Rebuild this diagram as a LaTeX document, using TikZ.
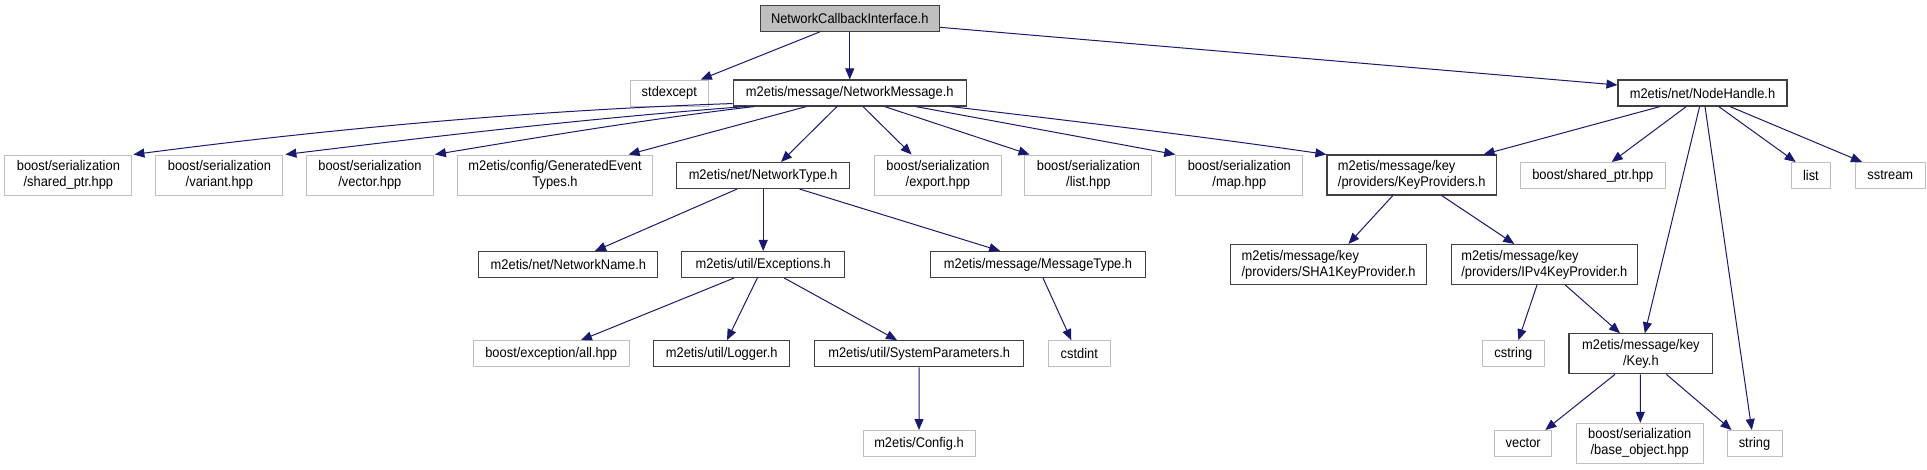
\documentclass[tikz,border=0pt]{standalone}
\usepackage{fontspec}
\setmainfont{Liberation Sans}[FakeStretch=0.92]
\usetikzlibrary{arrows.meta}
\definecolor{edgec}{HTML}{191970}
\definecolor{grayb}{HTML}{BFBFBF}
\definecolor{rootf}{HTML}{BFBFBF}
\definecolor{darkb}{HTML}{404040}
\begin{document}
\begin{tikzpicture}[x=1pt,y=-1pt,
  box/.style={draw=darkb, line width=1.1pt, inner sep=0pt, minimum height=26pt,
    font=\fontsize{14}{16}\selectfont, align=center},
  gbox/.style={box, draw=grayb, line width=1pt},
  two/.style={minimum height=40pt},
  edge/.style={draw=edgec, line width=1pt, -{Triangle[length=11pt,width=9pt]}}]
\useasboundingbox (0,0) rectangle (1927,469);
% row 1
\node[box, fill=rootf, minimum width=179pt] (root) at (849.75,18.3) {NetworkCallbackInterface.h};
% row 2
\node[gbox, minimum width=78pt] (stdexcept) at (669.3,93) {stdexcept};
\node[box, minimum width=233pt] (nm) at (849.75,93) {m2etis/message/NetworkMessage.h};
\node[box, minimum width=169pt] (nh) at (1702.5,93) {m2etis/net/NodeHandle.h};
% row 3
\node[gbox, two, minimum width=127pt] (sp) at (68.4,175) {boost/serialization\\/shared\_ptr.hpp};
\node[gbox, two, minimum width=127pt] (var) at (219.4,175) {boost/serialization\\/variant.hpp};
\node[gbox, two, minimum width=127pt] (vec) at (369.9,175) {boost/serialization\\/vector.hpp};
\node[gbox, two, minimum width=195pt] (get) at (555,175) {m2etis/config/GeneratedEvent\\Types.h};
\node[box, minimum width=173pt] (nt) at (763.2,175.5) {m2etis/net/NetworkType.h};
\node[gbox, two, minimum width=127pt] (exp) at (937.9,175) {boost/serialization\\/export.hpp};
\node[gbox, two, minimum width=127pt] (lst) at (1088.4,175) {boost/serialization\\/list.hpp};
\node[gbox, two, minimum width=127pt] (map) at (1239.3,175) {boost/serialization\\/map.hpp};
\node[box, two, minimum width=169.5pt, align=left] (kp) at (1411.7,175) {m2etis/message/key\\/providers/KeyProviders.h};
\node[gbox, minimum width=145.6pt] (bsp) at (1592.8,175.5) {boost/shared\_ptr.hpp};
\node[gbox, minimum width=39.4pt] (list) at (1810.9,175.5) {list};
\node[gbox, minimum width=70.6pt] (sstream) at (1890.3,175.5) {sstream};
% row 4
\node[box, minimum width=179pt] (nn) at (568.4,264.5) {m2etis/net/NetworkName.h};
\node[box, minimum width=163.3pt] (exc) at (763.2,264.5) {m2etis/util/Exceptions.h};
\node[box, minimum width=214.8pt] (mt) at (1038,264.5) {m2etis/message/MessageType.h};
\node[box, two, minimum width=195.5pt, align=left] (sha1) at (1328.6,264.5) {m2etis/message/key\\/providers/SHA1KeyProvider.h};
\node[box, two, minimum width=186.2pt, align=left] (ipv4) at (1544.3,264.5) {m2etis/message/key\\/providers/IPv4KeyProvider.h};
% row 5
\node[gbox, minimum width=156.4pt] (bea) at (551.2,353.7) {boost/exception/all.hpp};
\node[box, minimum width=136pt] (log) at (721.7,353.7) {m2etis/util/Logger.h};
\node[box, minimum width=209.4pt] (sysp) at (919.2,353.7) {m2etis/util/SystemParameters.h};
\node[gbox, minimum width=61.8pt] (cstdint) at (1079.3,353.7) {cstdint};
\node[gbox, minimum width=61.4pt] (cstring) at (1513.4,353.7) {cstring};
\node[box, two, minimum width=143.8pt] (key) at (1640.9,353.8) {m2etis/message/key\\/Key.h};
% row 6
\node[gbox, minimum width=112pt] (cfg) at (919,443.5) {m2etis/Config.h};
\node[gbox, minimum width=56.8pt] (vector) at (1523.2,443.5) {vector};
\node[gbox, two, minimum width=127.3pt] (bo) at (1639.7,443.3) {boost/serialization\\/base\_object.hpp};
\node[gbox, minimum width=55pt] (string) at (1754.5,443.5) {string};
% edges from root
\draw[edge] ([xshift=60.2pt]root.south west) -- ([xshift=-8pt]stdexcept.north east);
\draw[edge] (root.south) -- (nm.north);
\draw[edge] ([yshift=-9pt]root.east) -- ([yshift=8pt]nh.west);
% edges from NetworkMessage
\draw[edge] ([yshift=3pt]nm.south west) .. controls (540,110) and (336,128) .. ([xshift=1pt]sp.north east);
\draw[edge] ([xshift=13.4pt]nm.south west) .. controls (591,118) and (437,136) .. ([xshift=2pt]var.north east);
\draw[edge] ([xshift=21.7pt]nm.south west) .. controls (648,119) and (540,137) .. ([xshift=1pt]vec.north east);
\draw[edge] ([xshift=73.7pt]nm.south west) -- ([xshift=-24.4pt]get.north east);
\draw[edge] ([xshift=-12.75pt]nm.south) -- ([xshift=17.8pt]nt.north);
\draw[edge] ([xshift=13.25pt]nm.south) -- ([xshift=-26.3pt]exp.north);
\draw[edge] ([xshift=34.85pt]nm.south) -- ([xshift=5.1pt]lst.north west);
\draw[edge] ([xshift=65.95pt]nm.south) -- (map.north west);
\draw[edge] ([xshift=-16.2pt]nm.south east) .. controls (1080,122) and (1200,136) .. (kp.north west);
% edges from NodeHandle
\draw[edge] ([xshift=42.7pt]nh.south west) -- ([xshift=-13.4pt]kp.north east);
\draw[edge] ([xshift=-16.2pt]nh.south) -- ([xshift=18.9pt]bsp.north);
\draw[edge] ([xshift=-2.9pt]nh.south) -- ([xshift=3.9pt]key.north);
\draw[edge] ([xshift=2.5pt]nh.south) -- ([xshift=-2.7pt]string.north);
\draw[edge] ([xshift=16.2pt]nh.south) -- ([xshift=5pt]list.north west);
\draw[edge] ([xshift=27.4pt]nh.south) -- ([xshift=7.5pt]sstream.north west);
% edges from NetworkType
\draw[edge] ([xshift=60.9pt]nt.south west) -- ([xshift=26.6pt]nn.north);
\draw[edge] (nt.south) -- (exc.north);
\draw[edge] ([xshift=36.4pt]nt.south) -- ([xshift=70.1pt]mt.north west);
% edges from Exceptions
\draw[edge] ([xshift=53pt]exc.south west) -- ([xshift=-49pt]bea.north east);
\draw[edge] ([xshift=-5.9pt]exc.south) -- ([xshift=5.3pt]log.north);
\draw[edge] ([xshift=21.1pt]exc.south) -- ([xshift=-22.2pt]sysp.north);
\draw[edge] ([xshift=5pt]mt.south) -- ([xshift=-8pt]cstdint.north);
\draw[edge] (sysp.south) -- (cfg.north);
% key providers
\draw[edge] ([xshift=-18.9pt]kp.south) -- ([xshift=19.8pt]sha1.north);
\draw[edge] ([xshift=30pt]kp.south) -- ([xshift=-30pt]ipv4.north);
\draw[edge] ([xshift=-7.3pt]ipv4.south) -- ([xshift=5pt]cstring.north);
\draw[edge] ([xshift=21pt]ipv4.south) -- ([xshift=-20.9pt]key.north);
% key
\draw[edge] ([xshift=-25.9pt]key.south) -- ([xshift=22.1pt]vector.north);
\draw[edge] ([xshift=-0.6pt]key.south) -- ([xshift=0.6pt]bo.north);
\draw[edge] ([xshift=25.5pt]key.south) -- ([xshift=5pt]string.north west);
\end{tikzpicture}
\end{document}
